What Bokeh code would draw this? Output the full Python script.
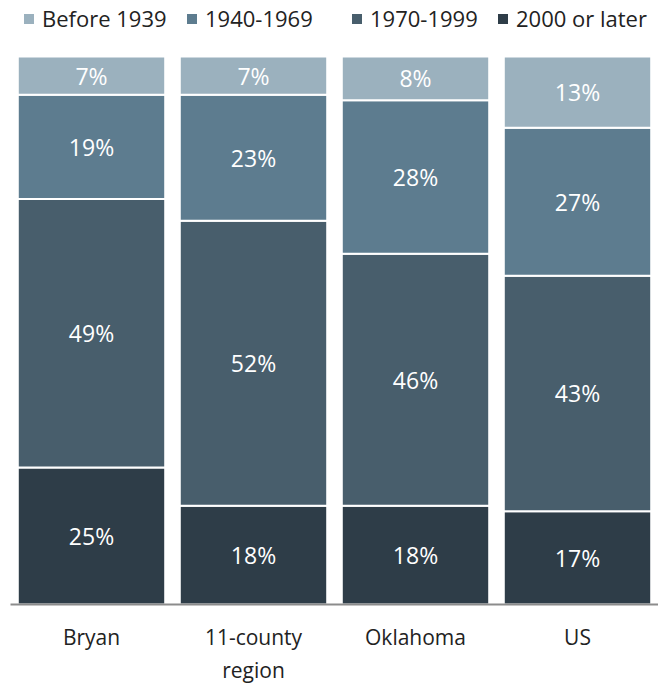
from bokeh.plotting import figure
from bokeh.models import FactorRange, Legend, LegendItem, ColumnDataSource
from bokeh.core.properties import value
from bokeh.embed import file_html
from bokeh.resources import INLINE

regions = ["Bryan", "11-county\nregion", "Oklahoma", "US"]
series = ["2000 or later", "1970-1999", "1940-1969", "Before 1939"]
after_2000 = [25, 18, 18, 17]
y1970_1999 = [49, 52, 46, 43]
y1940_1969 = [19, 23, 28, 27]
before_1939 = [7, 7, 8, 13]
colors = ["#2e3d48", "#485e6c", "#5d7c8f", "#9bb1be"]

values = [after_2000, y1970_1999, y1940_1969, before_1939]
data = {"region": regions}
for name, vals in zip(series, values):
    data[name] = vals
src = ColumnDataSource(data)

FONT = "Open Sans"

p = figure(x_range=FactorRange(*regions, range_padding=0), y_range=(0, 110.2),
           frame_width=648, frame_height=604, output_backend="svg", toolbar_location=None,
           min_border_left=10, min_border_right=0, min_border_top=0, min_border_bottom=0)

renderers = p.vbar_stack(series, x="region", width=0.91, source=src, color=colors,
                         line_color="white", line_width=2)

# labels
lx, ly, lt = [], [], []
for i, r in enumerate(regions):
    base = 0
    for vals in values:
        v = vals[i]
        lx.append(r)
        ly.append(base + v / 2)
        lt.append(f"{v}%")
        base += v
p.text(x=lx, y=ly, text=lt, text_color="white", text_align="center",
       text_baseline="middle", text_font=value(FONT), text_font_size="23px")

# legend, one entry per item so each sits where the reference has it
legend_x = [11, 174, 339, 485]
for (s, r), lxp in zip(list(zip(series, renderers))[::-1], legend_x):
    lg = Legend(items=[LegendItem(label=s, renderers=[r])], location=(lxp, 571),
                label_text_font=FONT, label_text_font_size="22px",
                label_text_color="#222222", glyph_width=15, glyph_height=15,
                label_standoff=6, label_height=22, padding=0, margin=0,
                border_line_color=None, background_fill_alpha=0)
    p.add_layout(lg)

p.xaxis.axis_line_color = "#8c8c8c"
p.xaxis.axis_line_width = 2
p.xaxis.major_tick_line_color = None
p.xaxis.minor_tick_line_color = None
p.xaxis.major_label_text_font = FONT
p.xaxis.major_label_text_font_size = "21px"
p.xaxis.major_label_text_color = "#222222"
p.xaxis.major_label_standoff = 12
p.yaxis.visible = False
p.xgrid.grid_line_color = None
p.ygrid.grid_line_color = None
p.outline_line_color = None

open("out.html", "w").write(file_html(p, INLINE))
